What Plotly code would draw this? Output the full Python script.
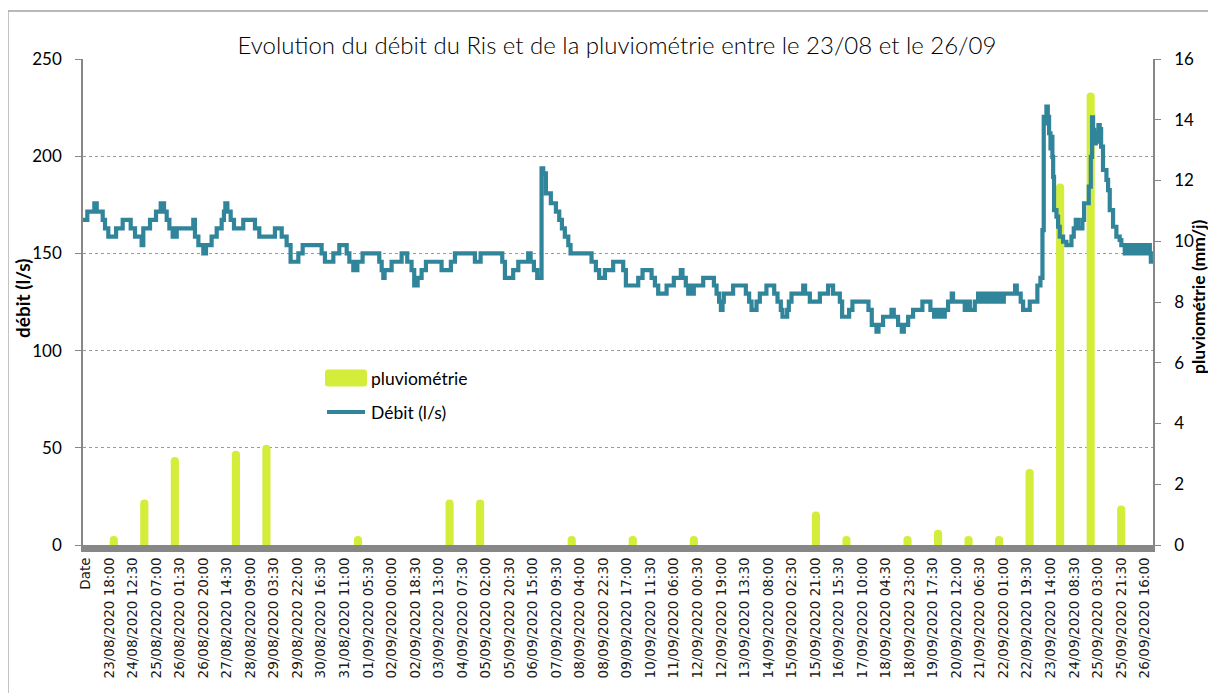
import pandas as pd
import plotly.graph_objects as go

# ---------------- data ----------------
T0 = pd.Timestamp("2020-08-23 00:00")

# flow (l/s): change points, hours after 23/08/2020 00:00, drawn as steps
debit_heures = [
    -2.7, 0.7, 6.2, 8.1, 12.8, 14.6, 17.2, 23.3, 28.5, 34.8, 38.2, 43.4, 44.7, 50.0, 54.7,
    58.4, 61.0, 63.1, 65.2, 67.8, 71.0, 84.0, 85.3, 88.0, 91.9, 94.0, 98.4, 102.4, 106.3,
    108.1, 109.2, 110.8, 113.4, 116.0, 123.3, 132.5, 135.9, 148.2, 153.5, 157.4, 160.5,
    166.6, 170.0, 184.9, 187.5, 194.1, 198.8, 204.6, 206.7, 209.8, 213.0, 217.1, 230.2,
    232.1, 233.4, 234.4, 239.9, 247.8, 252.2, 255.6, 257.7, 260.4, 263.5, 266.9, 279.2,
    286.5, 289.7, 305.4, 309.9, 326.9, 329.0, 335.5, 339.5, 347.3, 349.2, 351.8, 354.4,
    357.8, 359.1, 361.2, 365.1, 369.1, 371.7, 373.8, 376.1, 378.8, 380.6, 397.1, 400.5,
    403.1, 407.6, 414.1, 422.0, 424.1, 433.8, 437.2, 444.3, 446.9, 449.5, 456.1, 461.8,
    467.3, 468.6, 471.2, 473.1, 474.4, 476.0, 477.5, 484.9, 493.3, 495.4, 497.4, 498.8,
    500.1, 501.1, 508.4, 518.4, 521.0, 522.9, 526.8, 529.4, 534.6, 540.7, 543.3, 545.9,
    547.2, 550.9, 552.2, 554.3, 563.5, 565.0, 568.7, 576.6, 583.1, 587.0, 592.3, 594.1,
    599.6, 602.2, 614.8, 617.4, 621.1, 622.7, 626.3, 632.9, 634.7, 638.1, 641.0, 642.6,
    646.0, 649.9, 657.2, 663.5, 666.4, 668.2, 669.6, 671.4, 673.0, 674.8, 677.4, 680.3,
    681.3, 690.5, 692.4, 694.5, 698.4, 701.0, 702.8, 704.9, 707.0, 709.1, 711.2, 713.3,
    715.4, 717.5, 719.6, 721.2, 730.1, 731.4, 734.5, 736.4, 741.6, 747.6, 750.0, 751.6,
    752.6, 753.7, 754.7, 755.8, 756.8, 757.9, 758.6, 759.4, 760.0, 760.7, 762.6, 763.9,
    765.2, 767.8, 770.4, 774.4, 776.2, 777.8, 779.6, 783.0, 784.3, 788.0, 789.6, 790.6,
    791.4, 792.2, 793.5, 794.5, 795.6, 796.6, 797.7, 799.2, 801.9, 803.2, 804.5, 807.1,
    809.7, 812.3, 813.6, 816.3, 818.1, 820.2, 822.3, 824.1, 826.0, 828.1, 829.9, 832.0,
    833.6, 836.0, 836.8, 838.5,
]
debit_ls = [
    167.2, 171.5, 175.8, 171.5, 167.2, 162.9, 158.6, 162.9, 167.2, 162.9, 158.6, 154.3, 162.9, 167.2, 171.5,
    175.8, 171.5, 167.2, 162.9, 158.6, 162.9, 167.2, 158.6, 154.3, 150.0, 154.3, 158.6, 162.9, 167.2,
    171.5, 175.8, 171.5, 167.2, 162.9, 167.2, 162.9, 158.6, 162.9, 158.6, 154.3, 145.7,
    150.0, 154.3, 150.0, 145.7, 150.0, 154.3, 150.0, 145.7, 141.4, 145.7, 150.0, 145.7,
    141.4, 137.4, 141.4, 145.7, 150.0, 145.7, 141.4, 133.5, 137.4, 141.4, 145.7, 141.4,
    145.7, 150.0, 145.7, 150.0, 145.7, 137.4, 141.4, 145.7, 150.0, 145.7, 141.4, 137.4,
    193.8, 191.2, 180.9, 175.8, 171.5, 167.2, 162.9, 158.6, 154.3, 150.0, 145.7, 141.4,
    137.4, 141.4, 145.7, 141.4, 133.5, 137.4, 141.4, 137.4, 133.5, 129.3, 133.5, 137.4,
    141.4, 137.4, 133.5, 129.3, 133.5, 129.3, 133.5, 137.4, 133.5, 129.3, 125.2, 120.9,
    125.2, 129.3, 133.5, 129.3, 125.2, 120.9, 125.2, 129.3, 133.5, 129.3, 125.2, 120.9,
    117.4, 120.9, 125.2, 129.3, 133.5, 129.3, 125.2, 129.3, 133.5, 129.3, 125.2, 117.4,
    120.9, 125.2, 120.9, 113.2, 109.7, 113.2, 117.4, 120.9, 117.4, 113.2, 109.7, 113.2,
    117.4, 120.9, 125.2, 120.9, 117.4, 120.9, 117.4, 120.9, 117.4, 120.9, 125.2, 129.3,
    125.2, 120.9, 125.2, 120.9, 125.2, 129.3, 125.2, 129.3, 125.2, 129.3, 125.2, 129.3,
    125.2, 129.3, 125.2, 129.3, 133.5, 129.3, 125.2, 120.9, 125.2, 133.5, 137.4, 162.0,
    220.3, 216.9, 225.5, 220.3, 211.8, 204.0, 210.0, 199.7, 189.4, 172.3, 168.9, 163.7,
    158.6, 156.0, 154.3, 158.6, 162.9, 167.2, 162.9, 167.2, 175.8, 184.3, 199.7, 220.0,
    213.5, 206.6, 211.8, 207.5, 216.0, 214.0, 204.9, 192.9, 187.8, 182.6, 172.3, 163.7,
    158.6, 156.9, 154.3, 150.0, 154.3, 150.0, 154.3, 150.0, 154.3, 150.0, 154.3, 150.0,
    154.3, 150.0, 145.7, 145.7,
]

# daily rainfall (mm/j)
pluvio_jours = [
    "2020-08-23", "2020-08-24", "2020-08-25", "2020-08-27", "2020-08-28", "2020-08-31",
    "2020-09-03", "2020-09-04", "2020-09-07", "2020-09-09", "2020-09-11", "2020-09-15",
    "2020-09-16", "2020-09-18", "2020-09-19", "2020-09-20", "2020-09-21", "2020-09-22",
    "2020-09-23", "2020-09-24", "2020-09-25",
]
pluvio_mm = [0.3, 1.5, 2.9, 3.1, 3.3, 0.3, 1.5, 1.5, 0.3, 0.3, 0.3, 1.1,
             0.3, 0.3, 0.5, 0.3, 0.3, 2.5, 11.9, 14.9, 1.3]

# category tick labels
etiquettes_dates = [
    "23/08/2020 18:00", "24/08/2020 12:30", "25/08/2020 07:00", "26/08/2020 01:30",
    "26/08/2020 20:00", "27/08/2020 14:30", "28/08/2020 09:00", "29/08/2020 03:30",
    "29/08/2020 22:00", "30/08/2020 16:30", "31/08/2020 11:00", "01/09/2020 05:30",
    "02/09/2020 00:00", "02/09/2020 18:30", "03/09/2020 13:00", "04/09/2020 07:30",
    "05/09/2020 02:00", "05/09/2020 20:30", "06/09/2020 15:00", "07/09/2020 09:30",
    "08/09/2020 04:00", "08/09/2020 22:30", "09/09/2020 17:00", "10/09/2020 11:30",
    "11/09/2020 06:00", "12/09/2020 00:30", "12/09/2020 19:00", "13/09/2020 13:30",
    "14/09/2020 08:00", "15/09/2020 02:30", "15/09/2020 21:00", "16/09/2020 15:30",
    "17/09/2020 10:00", "18/09/2020 04:30", "18/09/2020 23:00", "19/09/2020 17:30",
    "20/09/2020 12:00", "21/09/2020 06:30", "22/09/2020 01:00", "22/09/2020 19:30",
    "23/09/2020 14:00", "24/09/2020 08:30", "25/09/2020 03:00", "25/09/2020 21:30",
    "26/09/2020 16:00",
]
etiquette_entete = "Date"
position_entete = "2020-08-22 23:30"

# ---------------- styles ----------------
BLEU = "#31859B"
VERT = "#D4EC3A"
GRIS = "#878787"
FONT = "Lato"
OFF = 8  # page body margin added around the figure

debit_t = [T0 + pd.Timedelta(hours=h) for h in debit_heures]
pluvio_t = [pd.Timestamp(d) + pd.Timedelta(hours=21.5) for d in pluvio_jours]
bar_w = 6.4 * 3600 * 1000

tickvals = [pd.Timestamp(position_entete)] + [pd.to_datetime(s, format="%d/%m/%Y %H:%M") for s in etiquettes_dates]
ticktext = [etiquette_entete] + etiquettes_dates

fig = go.Figure()
fig.add_trace(go.Bar(
    x=pluvio_t, y=pluvio_mm, yaxis="y", name="pluviométrie",
    width=[bar_w] * len(pluvio_t), marker=dict(color=VERT, line=dict(width=0)),
    showlegend=False,
))
fig.add_trace(go.Scatter(
    x=debit_t, y=debit_ls, yaxis="y2", name="Débit (l/s)", mode="lines",
    line=dict(color=BLEU, width=4.2, shape="hv"), showlegend=False,
))

# plot area in page pixels: x 83..1153, y 59..545
L, R, T, B = 83, 1153, 59, 545
W, H = 1216 - OFF, 693 - OFF
def px(xp):
    return (xp - L) / (R - L)
def py(yp):
    return (B - yp) / (B - T)

fig.update_layout(
    width=W, height=H,
    margin=dict(l=L - OFF, r=W - (R - OFF), t=T - OFF, b=H - (B - OFF), pad=0, autoexpand=False),
    paper_bgcolor="white", plot_bgcolor="white",
    barcornerradius="50%",
    font=dict(family=FONT, color="#000000"),
    title=dict(
        text="Evolution du débit du Ris et de la pluviométrie entre le 23/08 et le 26/09",
        x=px(617), xref="paper", xanchor="center", y=1 - (46 - OFF) / H, yanchor="middle",
        font=dict(family=FONT, size=24, weight=300, color="#000000"),
    ),
    xaxis=dict(
        type="date",
        range=[T0 - pd.Timedelta(hours=2.7), T0 + pd.Timedelta(hours=838.5)],
        tickmode="array", tickvals=tickvals, ticktext=ticktext, tickangle=-90,
        tickfont=dict(family="DejaVu Sans", size=13.5, color="#1a1a1a"),
        showline=True, linecolor=GRIS, linewidth=7,
        ticks="", showgrid=False, zeroline=False, ticklabelstandoff=0,
    ),
    yaxis=dict(
        side="right", range=[0, 16], dtick=2, tick0=0,
        showgrid=False, zeroline=False,
        showline=True, linecolor=GRIS, linewidth=1.5,
        ticks="outside", ticklen=6, tickcolor=GRIS, tickwidth=1.2,
        tickfont=dict(family=FONT, size=17, color="#000000"),
        ticklabelstandoff=10,
    ),
    yaxis2=dict(
        overlaying="y", side="left", range=[0, 250], dtick=50, tick0=0,
        showgrid=True, gridcolor="#9a9a9a", gridwidth=1, griddash="dot", zeroline=False,
        showline=True, linecolor=GRIS, linewidth=1.5,
        ticks="outside", ticklen=6, tickcolor=GRIS, tickwidth=1.2,
        tickfont=dict(family=FONT, size=17, color="#000000"),
        ticklabelstandoff=10,
    ),
    showlegend=False,
)

# axis titles
fig.add_annotation(text="<b>débit (l/s)</b>", xref="paper", yref="paper", x=px(22), y=py(299),
                   xanchor="center", yanchor="middle", textangle=-90, showarrow=False,
                   font=dict(family=FONT, size=19, color="#000000"))
fig.add_annotation(text="<b>pluviométrie (mm/j)</b>", xref="paper", yref="paper", x=px(1198), y=py(297),
                   xanchor="center", yanchor="middle", textangle=-90, showarrow=False,
                   font=dict(family=FONT, size=17.5, color="#000000"))

# legend drawn inside the plot (as in the original)
fig.add_shape(
    type="path", xref="paper", yref="paper", xsizemode="pixel", ysizemode="pixel",
    xanchor=px(346), yanchor=py(378),
    path="M -18,-8.5 L 18,-8.5 Q 21,-8.5 21,-5.5 L 21,5.5 Q 21,8.5 18,8.5 L -18,8.5 "
         "Q -21,8.5 -21,5.5 L -21,-5.5 Q -21,-8.5 -18,-8.5 Z",
    fillcolor=VERT, line=dict(width=0),
)
fig.add_shape(
    type="line", xref="paper", yref="paper",
    x0=px(327), x1=px(365), y0=py(412), y1=py(412),
    line=dict(color=BLEU, width=4),
)
fig.add_annotation(text="pluviométrie", xref="paper", yref="paper", x=px(369), y=py(378),
                   xanchor="left", yanchor="middle", showarrow=False,
                   font=dict(family=FONT, size=17.5, color="#000000"))
fig.add_annotation(text="Débit (l/s)", xref="paper", yref="paper", x=px(369), y=py(412),
                   xanchor="left", yanchor="middle", showarrow=False,
                   font=dict(family=FONT, size=17.5, color="#000000"))

# chart frame
fig.add_shape(
    type="rect", xref="paper", yref="paper", layer="below",
    x0=px(8), x1=px(1260), y0=py(11), y1=py(760),
    line=dict(color="#a3a3a3", width=1.3), fillcolor="rgba(0,0,0,0)",
)

fig.write_html("out.html")
